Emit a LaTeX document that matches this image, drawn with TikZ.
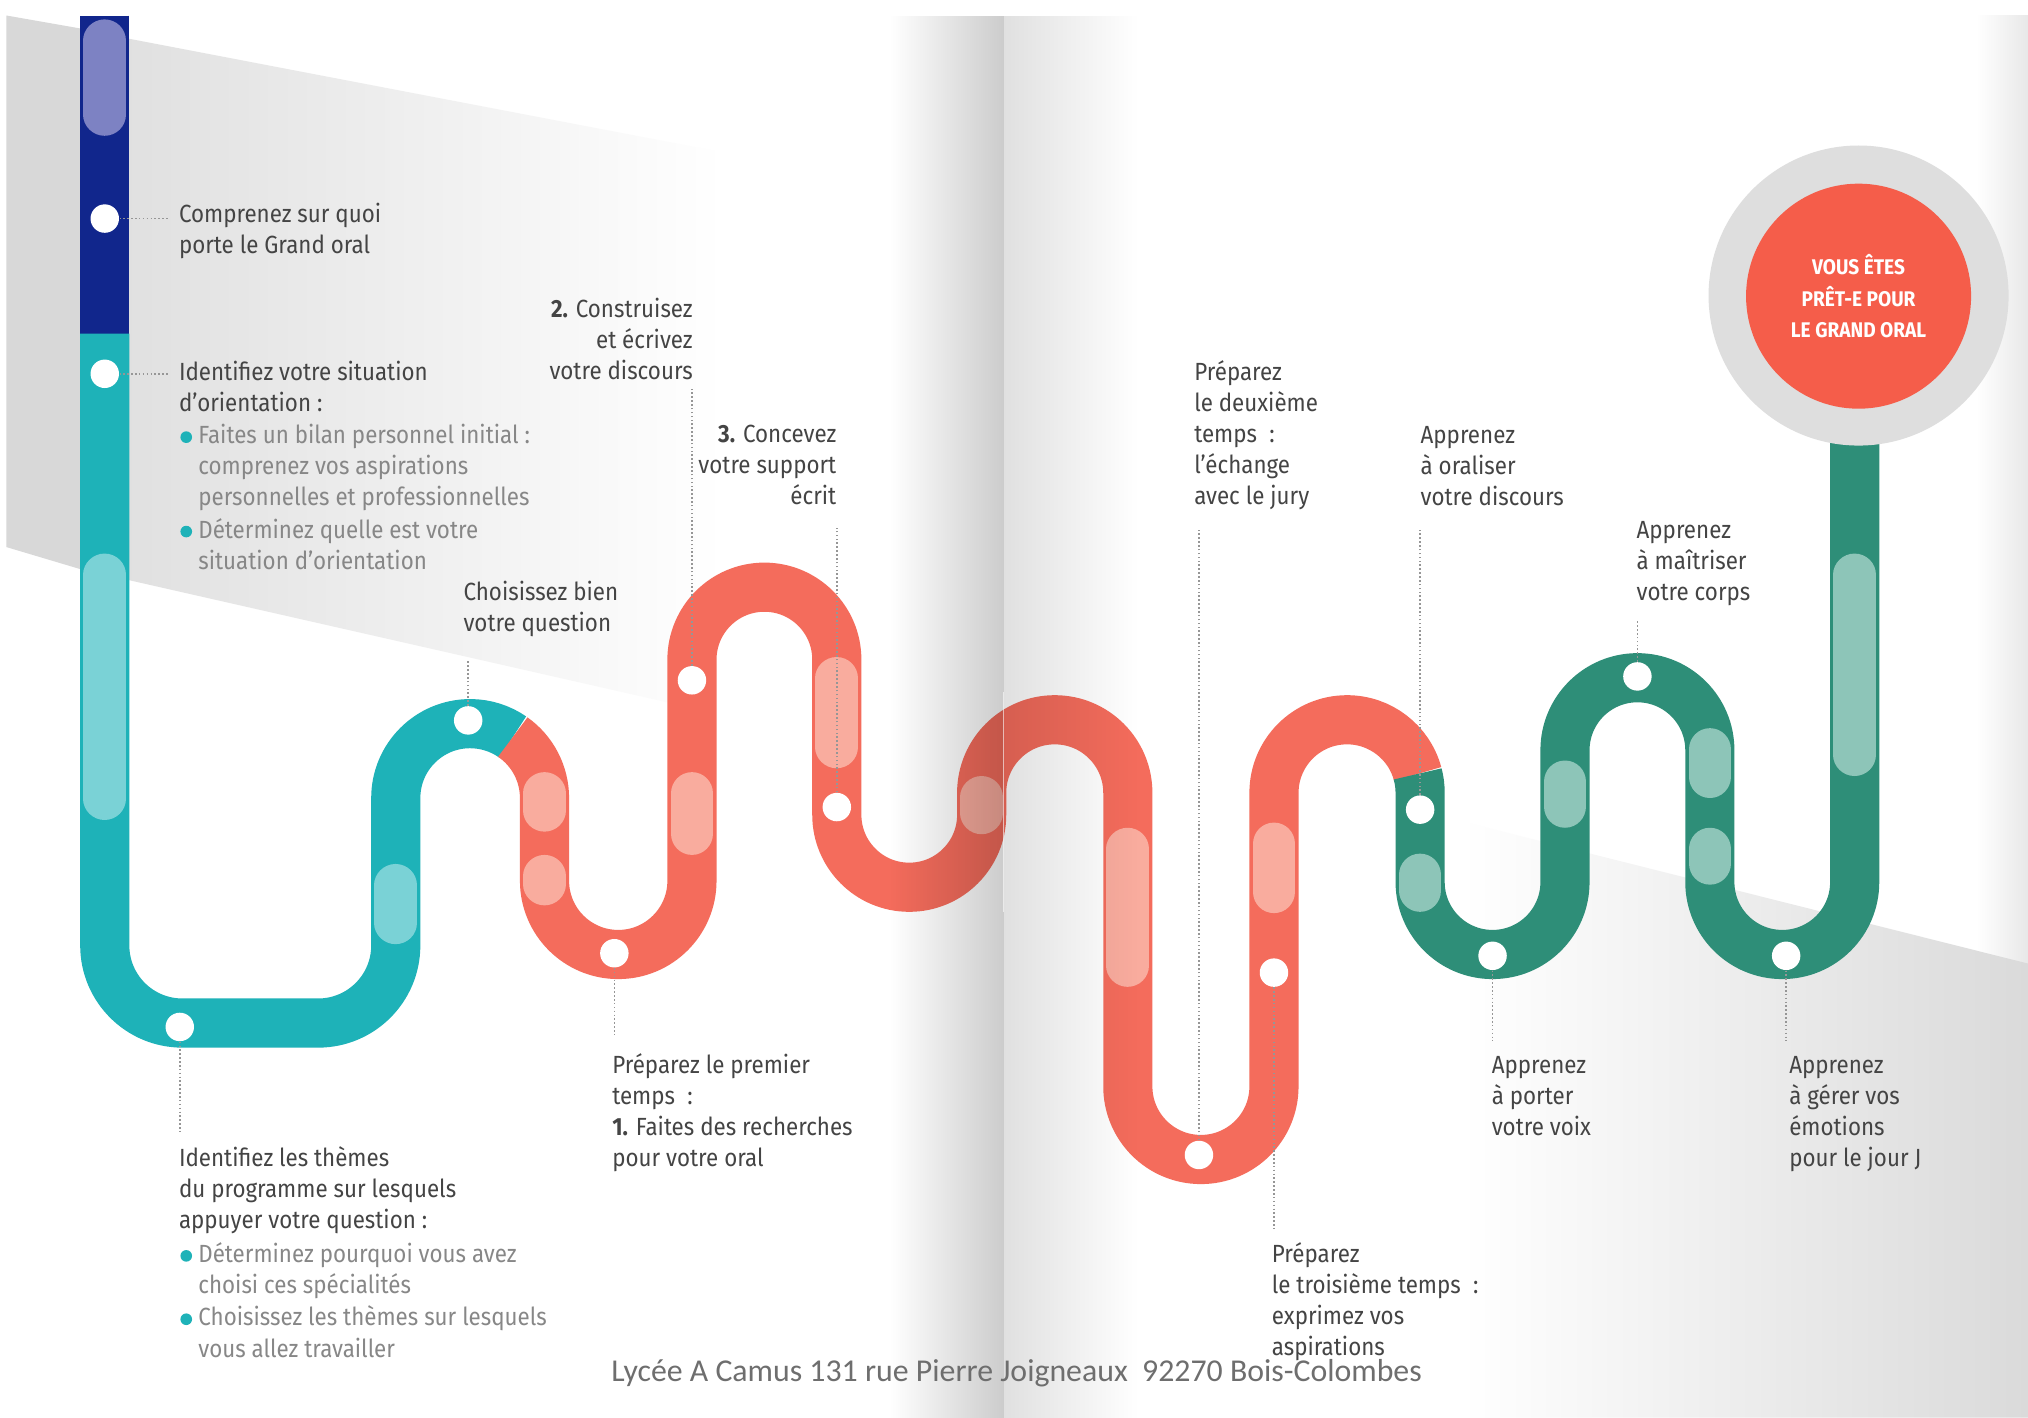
\documentclass[tikz,border=0pt]{standalone}
\usepackage{fontspec}
\setmainfont{Fira Sans}[FakeStretch=0.9]
\newfontfamily\footfont{Carlito}
\usetikzlibrary{fadings}
\definecolor{cNavy}{RGB}{17,38,140}
\definecolor{cLav}{RGB}{125,130,195}
\definecolor{cTeal}{RGB}{30,178,184}
\definecolor{cTealL}{RGB}{122,210,214}
\definecolor{cRed}{RGB}{244,108,92}
\definecolor{cRedL}{RGB}{249,172,158}
\definecolor{cGreen}{RGB}{46,142,120}
\definecolor{cGreenL}{RGB}{141,197,184}
\definecolor{cRing}{RGB}{222,222,222}
\definecolor{cCirc}{RGB}{245,93,74}
\definecolor{cTxt}{RGB}{68,68,68}
\definecolor{cSub}{RGB}{135,135,135}
\definecolor{cLead}{RGB}{150,150,150}
\definecolor{cFoot}{RGB}{110,110,110}
\definecolor{cWedge}{RGB}{216,216,216}
\definecolor{cGrayR}{RGB}{218,218,218}
\definecolor{cEdge}{RGB}{232,232,232}
\tikzfading[name=fadeR, left color=transparent!100, right color=transparent!0]
\tikzfading[name=fadeL, left color=transparent!0, right color=transparent!100]
\tikzset{
  track/.style={line width=19pt, line cap=butt},
  pill/.style={line width=16.5pt, line cap=round},
  dot/.style={circle, fill=white, minimum size=11pt, inner sep=0pt},
  leader/.style={draw=cLead, line width=0.6pt, dash pattern=on 0.6pt off 0.9pt},
  lbl/.style={font=\fontsize{9.6}{12}\selectfont, text=cTxt, inner sep=0pt, anchor=north west, align=left},
  sublbl/.style={lbl, text=cSub},
  lblR/.style={lbl, anchor=north east, align=right},
  bullet/.style={circle, fill=cTeal, minimum size=4.5pt, inner sep=0pt},
}
\begin{document}
\begin{tikzpicture}[x=0.5pt,y=0.5pt]
\useasboundingbox (0,0) rectangle (1568,-1096);
% ---------- background ----------
\fill[white] (0,0) rectangle (1568,-1096);
\fill[cWedge] (5,-12) -- (62,-22) -- (62,-440) -- (5,-423) -- cycle;
\shade[left color=cWedge!85!white, right color=white] (62,-22) -- (100,-30) -- (560,-118) -- (560,-553) -- (62,-440) -- cycle;
\shade[left color=white, right color=cEdge] (1528,-12) rectangle (1568,-770);
\shade[left color=white, right color=cGrayR] (1130,-635) -- (1568,-745) -- (1568,-1096) -- (1130,-1096) -- cycle;
% ---------- track ----------
\draw[track, cNavy] (81,-12) -- (81,-258);
\draw[track, cTeal] (81,-258) -- (81,-731) arc[start angle=180, end angle=270, radius=60]
  -- (246,-791) arc[start angle=270, end angle=360, radius=60]
  -- (306,-617) arc[start angle=180, end angle=55, radius=57.5];
\draw[track, cRed] ([shift={(363.5,-617)}]55:57.5) arc[start angle=55, end angle=0, radius=57.5]
  -- (421,-681) arc[start angle=180, end angle=360, radius=57]
  -- (535,-510) arc[start angle=180, end angle=0, radius=56]
  -- (647,-630) arc[start angle=180, end angle=360, radius=56]
  -- (759,-613) arc[start angle=180, end angle=0, radius=56.5]
  -- (872,-840) arc[start angle=180, end angle=360, radius=56.5]
  -- (985,-613) arc[start angle=180, end angle=15, radius=56.5];
\draw[track, cGreen] ([shift={(1041.5,-613)}]15:56.5) arc[start angle=15, end angle=0, radius=56.5]
  -- (1098,-682) arc[start angle=180, end angle=360, radius=56]
  -- (1210,-580) arc[start angle=180, end angle=0, radius=56]
  -- (1322,-682) arc[start angle=180, end angle=360, radius=56]
  -- (1434,-330);
% ---------- pills ----------
\draw[pill, cLav] (81,-31.5) -- (81,-88.5);
\draw[pill, cTealL] (81,-444.5) -- (81,-617.5);
\draw[pill, cTealL] (306,-684.5) -- (306,-713.5);
\draw[pill, cRedL] (421,-613.5) -- (421,-626.5);
\draw[pill, cRedL] (421,-677.5) -- (421,-683.5);
\draw[pill, cRedL] (535,-613.5) -- (535,-644.5);
\draw[pill, cRedL] (647,-524.5) -- (647,-577.5);
\draw[pill, cRedL] (759,-616.5) -- (759,-628.5);
\draw[pill, cRedL] (872,-656.5) -- (872,-746.5);
\draw[pill, cRedL] (985,-652.5) -- (985,-689.5);
\draw[pill, cGreenL] (1098,-676.5) -- (1098,-688.5);
\draw[pill, cGreenL] (1210,-604.5) -- (1210,-623.5);
\draw[pill, cGreenL] (1322,-579.5) -- (1322,-600.5);
\draw[pill, cGreenL] (1322,-656.5) -- (1322,-667.5);
\draw[pill, cGreenL] (1434,-444.5) -- (1434,-583.5);
% ---------- dots ----------
\node[dot] (d1) at (81,-169) {};
\node[dot] (d2) at (81,-289) {};
\node[dot] (d3) at (139,-794) {};
\node[dot] (d4) at (362,-557) {};
\node[dot] (d5) at (475,-737) {};
\node[dot] (d6) at (535,-526) {};
\node[dot] (d7) at (647,-624) {};
\node[dot] (d8) at (927,-893) {};
\node[dot] (d9) at (985,-752) {};
\node[dot] (d10) at (1098,-626) {};
\node[dot] (d11) at (1154,-739) {};
\node[dot] (d12) at (1266,-523) {};
\node[dot] (d13) at (1381,-739) {};
% ---------- leader ends ----------
\coordinate (l1) at (130,-169);
\coordinate (l2) at (130,-289);
\coordinate (l3) at (139,-875);
\coordinate (l4) at (362,-510);
\coordinate (l5) at (475,-800);
\coordinate (l6) at (535,-300);
\coordinate (l7) at (647,-408);
\coordinate (l8) at (927,-410);
\coordinate (l9) at (985,-950);
\coordinate (l10) at (1098,-410);
\coordinate (l11) at (1154,-805);
\coordinate (l12) at (1266,-480);
\coordinate (l13) at (1381,-805);
\draw[leader] (d1.east) -- (l1);
\draw[leader] (d2.east) -- (l2);
\draw[leader] (d3.south) -- (l3);
\draw[leader] (d4.north) -- (l4);
\draw[leader] (d5.south) -- (l5);
\draw[leader] (d6.north) -- (l6);
\draw[leader] (d7.north) -- (l7);
\draw[leader] (d8.north) -- (l8);
\draw[leader] (d9.south) -- (l9);
\draw[leader] (d10.north) -- (l10);
\draw[leader] (d11.south) -- (l11);
\draw[leader] (d12.north) -- (l12);
\draw[leader] (d13.south) -- (l13);
% ---------- goal circle ----------
\fill[cRing] (1437,-228.5) circle[radius=116];
\node[circle, fill=cCirc, minimum size=87pt, inner sep=0pt, text=white, align=center,
      font=\bfseries\fontsize{8.2}{12.25}\selectfont] (goal) at (1437,-229)
      {VOUS ÊTES\\PRÊT-E POUR\\LE GRAND ORAL};
% ---------- labels ----------
\node[lbl] (t1) at (138,-155) {\strut Comprenez sur quoi\\porte le Grand oral};
\node[lbl] (t2) at (138,-277) {\strut Identifiez votre situation\\d’orientation :};
\node[bullet] (b1) at (144,-338) {};
\node[sublbl] (t2a) at (153,-326) {\strut Faites un bilan personnel initial :\\comprenez vos aspirations\\personnelles et professionnelles};
\node[bullet] (b2) at (144,-411) {};
\node[sublbl] (t2b) at (153,-399) {\strut Déterminez quelle est votre\\situation d’orientation};
\node[lbl] (t3) at (358,-447) {\strut Choisissez bien\\votre question};
\node[lblR] (t4) at (536,-228) {\strut\textbf{2.} Construisez\\et écrivez\\votre discours};
\node[lblR] (t5) at (647,-325) {\strut\textbf{3.} Concevez\\votre support\\écrit};
\node[lbl] (t6) at (473,-813) {\strut Préparez le premier\\temps\enspace:\\\textbf{1.} Faites des recherches\\pour votre oral};
\node[lbl] (t7) at (138,-885) {\strut Identifiez les thèmes\\du programme sur lesquels\\appuyer votre question :};
\node[bullet] (b3) at (144,-971) {};
\node[sublbl] (t7a) at (153,-959) {\strut Déterminez pourquoi vous avez\\choisi ces spécialités};
\node[bullet] (b4) at (144,-1020) {};
\node[sublbl] (t7b) at (153,-1008) {\strut Choisissez les thèmes sur lesquels\\vous allez travailler};
\node[lbl] (t8) at (923,-277) {\strut Préparez\\le deuxième\\temps\enspace:\\l’échange\\avec le jury};
\node[lbl] (t9) at (1098,-326) {\strut Apprenez\\à oraliser\\votre discours};
\node[lbl] (t10) at (1265,-399) {\strut Apprenez\\à maîtriser\\votre corps};
\node[lbl] (t11) at (1153,-813) {\strut Apprenez\\à porter\\votre voix};
\node[lbl] (t12) at (1383,-813) {\strut Apprenez\\à gérer vos\\émotions\\pour le jour J};
\node[lbl] (t13) at (983,-959) {\strut Préparez\\le troisième temps\enspace:\\exprimez vos\\aspirations};
% ---------- gutter shadow ----------
\fill[black, fill opacity=0.2, path fading=fadeR] (688,-12) rectangle (776,-1096);
\fill[black, fill opacity=0.12, path fading=fadeL] (776,-12) rectangle (880,-1096);
\draw[white, opacity=0.6, line width=0.5pt] (776,-535) -- (776,-705);
% ---------- footer ----------
\node[font=\footfont\fontsize{12.3}{14}\selectfont, text=cFoot, inner sep=0pt] (foot) at (786,-1062)
  {Lycée A Camus 131 rue Pierre Joigneaux\ \ 92270 Bois-Colombes};
\end{tikzpicture}
\end{document}
